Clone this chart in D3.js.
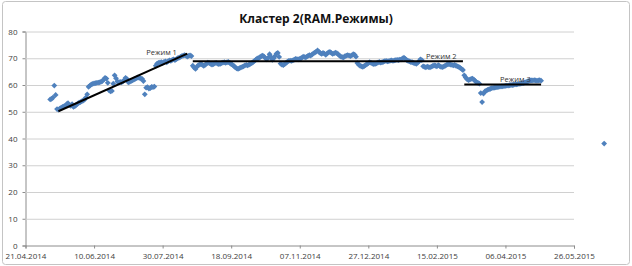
<!DOCTYPE html>
<html>
<head>
<meta charset="utf-8">
<script src="https://cdn.jsdelivr.net/npm/d3@7"></script>
<style>
  body { margin: 0; background: #fff; }
  svg { display: block; }
</style>
</head>
<body>
<div id="chart"></div>
<script>
// series: one value per day, starting at startDate
const startDate = '09.05.2014';
const ramValues = [
  54.6, 54.8, 55.3, 59.8, 56.3, 51.0, 50.8, 51.2, 51.5, 51.8,
  52.0, 52.3, 52.8, 53.2, 52.6, 52.2, 52.8, 51.8, 52.1, 52.6,
  53.0, 53.4, 53.6, 53.9, 54.2, 54.5, 55.3, 56.5, 59.3, 59.8,
  60.2, 60.4, 60.6, 60.7, 60.8, 60.9, 61.0, 61.2, 61.5, 62.0,
  62.7, 62.4, 60.8, 58.0, 57.6, 57.8, 60.5, 63.6, 62.5, 61.3,
  61.0, 61.2, 61.0, 61.3, 61.8, 62.7, 62.2, 61.0, 61.2, 61.5,
  61.7, 62.0, 62.3, 62.6, 62.8, 62.7, 62.5, 62.3, 61.5, 56.5,
  59.0, 59.2, 58.7, 58.8, 59.3, 59.2, 59.4, 67.2, 68.0, 68.3,
  68.4, 68.5, 68.3, 68.6, 68.8, 68.5, 68.9, 69.2, 69.0, 69.4,
  69.6, 69.3, 69.7, 70.0, 70.2, 70.5, 70.8, 71.0, 71.2, 71.0,
  70.6, 70.9, 71.1, 70.8, 67.2, 66.5, 66.0, 66.8, 67.4, 67.6,
  67.8, 67.5, 67.2, 67.5, 68.0, 68.4, 68.2, 67.9, 67.6, 67.8,
  68.1, 68.3, 68.0, 67.8, 67.9, 68.2, 68.4, 68.5, 68.3, 68.5,
  68.6, 68.3, 67.8, 67.5, 67.1, 66.6, 66.2, 66.0, 66.3, 66.5,
  66.8, 67.0, 67.3, 67.5, 67.3, 67.6, 67.9, 68.2, 68.6, 69.0,
  69.5, 69.9, 70.0, 70.4, 70.8, 71.0, 70.6, 70.0, 69.6, 70.2,
  71.5, 70.5, 69.4, 70.0, 70.8, 71.7, 72.0, 70.5, 68.0, 67.6,
  67.4, 67.8, 68.3, 68.7, 69.0, 69.1, 69.0, 69.2, 69.5, 69.8,
  69.7, 69.6, 69.8, 70.0, 70.4, 70.6, 70.3, 70.5, 70.9, 71.2,
  71.0, 71.4, 71.8, 72.1, 72.5, 72.9, 72.4, 71.9, 71.6, 72.0,
  71.7, 71.3, 71.8, 72.2, 72.4, 72.0, 71.6, 71.8, 72.1, 71.9,
  71.5, 71.0, 70.6, 70.4, 70.3, 70.8, 71.0, 71.2, 71.0, 70.8,
  71.1, 71.5, 71.3, 70.6, 68.2, 67.6, 67.2, 67.0, 66.8, 67.1,
  67.4, 67.8, 68.2, 68.5, 68.3, 68.0, 67.8, 67.9, 68.1, 68.4,
  68.6, 68.4, 68.5, 68.7, 68.9, 69.0, 68.8, 68.9, 69.1, 69.2,
  69.0, 69.2, 69.3, 69.4, 69.3, 69.5, 69.6, 69.9, 70.2, 69.8,
  69.3, 69.0, 68.8, 68.6, 68.5, 68.3, 68.1, 67.9, 68.3, 68.9,
  69.6, 69.3, 67.0, 66.8, 66.6, 66.9, 66.7, 66.6, 66.9, 67.1,
  67.3, 67.2, 67.0, 67.4, 67.1, 66.8, 66.7, 66.9, 67.2, 67.5,
  67.7, 67.8, 67.6, 67.5, 67.3, 67.5, 67.2, 67.0, 66.8, 66.4,
  66.0, 65.6, 63.6, 62.8, 62.2, 61.8, 62.0, 62.3, 62.4, 62.0,
  61.5, 61.0, 60.8, 60.5, 57.0, 53.6, 56.8, 57.6, 57.9, 58.2,
  58.4, 58.6, 58.8, 58.9, 59.0, 59.1, 59.2, 59.3, 59.4, 59.5,
  59.5, 59.6, 59.7, 59.8, 59.8, 59.9, 60.0, 60.0, 60.1, 60.2,
  60.2, 60.3, 60.4, 60.5, 60.6, 60.7, 60.9, 61.1, 61.3, 61.5,
  61.6, 61.7, 61.7, 61.8, 61.7, 61.6, 61.7, 61.8, 61.6,
];

// lone point far to the right
const outlierDates = ['17.06.2015'];
const outlierValues = [38.1];

// regime trend lines
const regimeNames = ['Режим 1', 'Режим 2', 'Режим 3'];
const regimeStartDates = ['15.05.2014', '21.08.2014', '07.03.2015'];
const regimeEndDates = ['17.08.2014', '06.03.2015', '02.05.2015'];
const regimeStartValues = [50.2, 68.9, 60.2];
const regimeEndValues = [71.7, 68.9, 60.2];
const regimeLabelDates = ['18.07.2014', '07.02.2015', '02.04.2015'];
const regimeLabelValues = [71.4, 69.9, 61.3];

const xTickLabels = ['21.04.2014', '10.06.2014', '30.07.2014', '18.09.2014', '07.11.2014',
  '27.12.2014', '15.02.2015', '06.04.2015', '26.05.2015'];
const yTicks = [0, 10, 20, 30, 40, 50, 60, 70, 80];

const title = 'Кластер 2(RAM.Режимы)';

const width = 632;
const height = 266;
const margin = { top: 31.5, right: 58, bottom: 20, left: 25.5 };
const fontFamily = '"Open Sans", "Noto Sans", "DejaVu Sans", sans-serif';
const pointColor = '#4f81bd';

const parseDate = d3.utcParse('%d.%m.%Y');
const start = parseDate(startDate);
const points = ramValues.map((v, i) => ({ date: d3.utcDay.offset(start, i), value: v }))
  .concat(outlierDates.map((d, i) => ({ date: parseDate(d), value: outlierValues[i] })));
const xTicks = xTickLabels.map(parseDate);

const x = d3.scaleUtc()
  .domain([xTicks[0], xTicks[xTicks.length - 1]])
  .range([margin.left, width - margin.right]);
const y = d3.scaleLinear()
  .domain([0, 80])
  .range([height - margin.bottom - 0.5, margin.top]);

const svg = d3.select('#chart')
  .append('svg')
  .attr('width', width)
  .attr('height', height);

svg.append('rect')
  .attr('x', 2.5)
  .attr('y', 1.5)
  .attr('width', width - 5)
  .attr('height', height - 3)
  .attr('rx', 3)
  .attr('fill', '#fff')
  .attr('stroke', '#c4c4c4');

svg.append('text')
  .attr('x', 316)
  .attr('y', 23)
  .attr('text-anchor', 'middle')
  .style('font-family', fontFamily)
  .style('font-size', '12px')
  .style('font-weight', '700')
  .attr('fill', '#111')
  .text(title);

// y axis with gridlines
const yG = svg.append('g')
  .attr('transform', `translate(${margin.left}, 0)`)
  .call(d3.axisLeft(y).tickValues(yTicks).tickSize(3).tickPadding(5));

yG.select('.domain').attr('stroke', '#8c8c8c');
yG.selectAll('.tick line').attr('stroke', '#8c8c8c');
yG.selectAll('.tick')
  .filter(d => d > 0)
  .append('line')
  .attr('x1', 0)
  .attr('x2', width - margin.right - margin.left)
  .attr('stroke', '#d0d0d0');
yG.selectAll('text')
  .style('font-family', fontFamily)
  .style('font-size', '8px')
  .attr('fill', '#404040');

// x axis
const xG = svg.append('g')
  .attr('transform', `translate(0, ${y(0)})`)
  .call(d3.axisBottom(x).tickValues(xTicks).tickFormat(d3.utcFormat('%d.%m.%Y')).tickSize(3).tickPadding(5));

xG.select('.domain').attr('stroke', '#8c8c8c');
xG.selectAll('.tick line').attr('stroke', '#8c8c8c');
xG.selectAll('text')
  .style('font-family', fontFamily)
  .style('font-size', '8px')
  .attr('fill', '#404040');

// points (diamonds)
const r = 2.9;
svg.append('g')
  .selectAll('path')
  .data(points)
  .enter()
  .append('path')
  .attr('d', `M0,${-r}L${r},0L0,${r}L${-r},0Z`)
  .attr('transform', d => `translate(${x(d.date)}, ${y(d.value)})`)
  .attr('fill', pointColor);

// regime lines + labels
const regimeG = svg.append('g');
regimeNames.forEach((name, i) => {
  regimeG.append('line')
    .attr('x1', x(parseDate(regimeStartDates[i])))
    .attr('y1', y(regimeStartValues[i]))
    .attr('x2', x(parseDate(regimeEndDates[i])))
    .attr('y2', y(regimeEndValues[i]))
    .attr('stroke', '#000')
    .attr('stroke-width', 2);

  regimeG.append('text')
    .attr('x', x(parseDate(regimeLabelDates[i])))
    .attr('y', y(regimeLabelValues[i]))
    .style('font-family', fontFamily)
    .style('font-size', '7.5px')
    .attr('fill', '#333')
    .text(name);
});
</script>
</body>
</html>
